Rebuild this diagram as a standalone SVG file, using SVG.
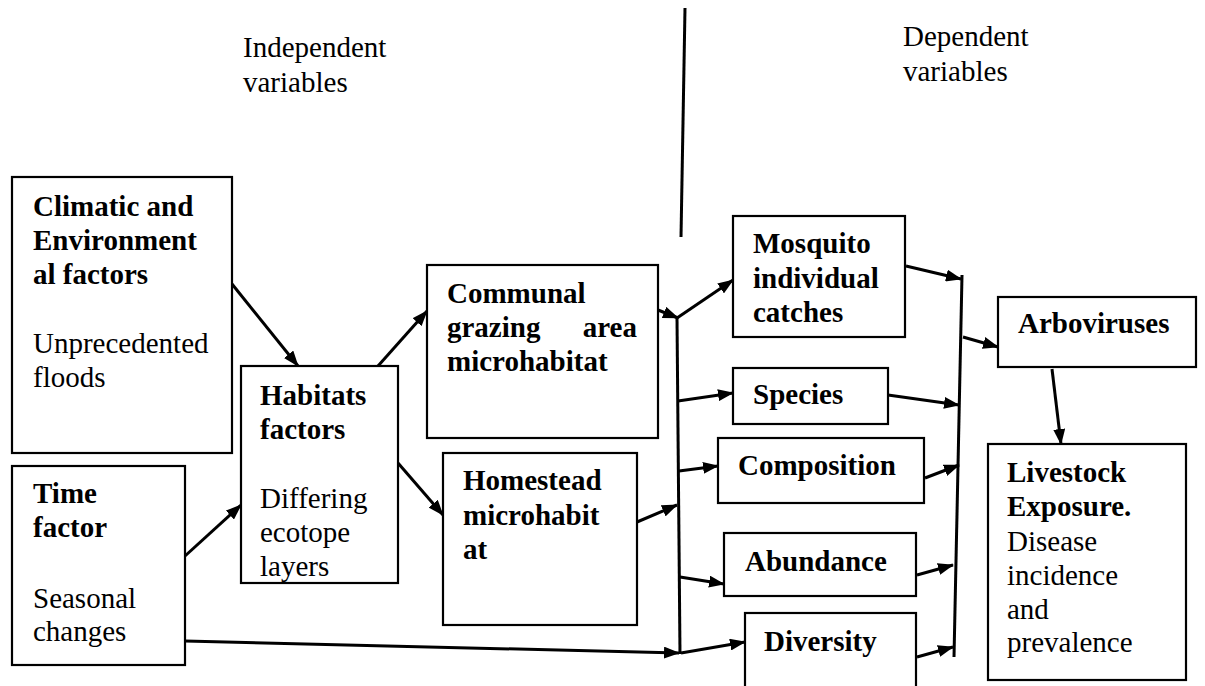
<svg xmlns="http://www.w3.org/2000/svg" width="1205" height="686" viewBox="0 0 1205 686">
<style>
.box{fill:#fff;stroke:#000;stroke-width:2.2}
.t{font-family:'Liberation Serif','Times New Roman',Tinos,'DejaVu Serif',serif;font-size:29px;fill:#000}
.b{font-weight:bold}
.ln{stroke:#000;stroke-width:3;fill:none}
.ar{stroke:#000;stroke-width:3;fill:none;marker-end:url(#ah)}
</style>
<defs>
<marker id="ah" markerUnits="userSpaceOnUse" markerWidth="16" markerHeight="12" refX="15" refY="6" orient="auto">
<path d="M0,0 L16,6 L0,12 z" fill="#000"/>
</marker>
</defs>
<rect width="1205" height="686" fill="#fff"/>

<g id="labels" class="t" font-family="Liberation Serif, serif">
<text x="243" y="57">Independent</text>
<text x="243" y="92">variables</text>
<text x="903" y="46">Dependent</text>
<text x="903" y="81">variables</text>
</g>

<g id="connectors">
<line class="ln" x1="685" y1="8" x2="681" y2="237"/>
<line class="ln" x1="677" y1="318" x2="680" y2="654"/>
<line class="ln" x1="962" y1="275" x2="954" y2="657"/>
<line class="ar" x1="232" y1="284" x2="298" y2="366"/>
<line class="ar" x1="378" y1="366" x2="427" y2="311"/>
<line class="ar" x1="185" y1="556" x2="241" y2="505"/>
<line class="ar" x1="398" y1="463" x2="443" y2="515"/>
<line class="ar" x1="637" y1="522" x2="677" y2="505"/>
<line class="ar" x1="185" y1="641" x2="679" y2="653"/>
<line class="ar" x1="658" y1="310" x2="678" y2="318"/>
<line class="ar" x1="677" y1="318" x2="733" y2="280"/>
<line class="ar" x1="678" y1="401" x2="733" y2="393"/>
<line class="ar" x1="679" y1="471" x2="718" y2="466"/>
<line class="ar" x1="680" y1="577" x2="724" y2="584"/>
<line class="ar" x1="681" y1="653" x2="745" y2="642"/>
<line class="ar" x1="906" y1="266" x2="961" y2="279"/>
<line class="ar" x1="888" y1="395" x2="959" y2="405"/>
<line class="ar" x1="925" y1="478" x2="959" y2="465"/>
<line class="ar" x1="917" y1="575" x2="953" y2="565"/>
<line class="ar" x1="917" y1="657" x2="953" y2="647"/>
<line class="ar" x1="963" y1="337" x2="998" y2="347"/>
<line class="ar" x1="1052" y1="369" x2="1061" y2="444"/>
</g>

<g id="climatic" class="t" font-family="Liberation Serif, serif">
<rect class="box" x="12" y="177" width="220" height="276"/>
<text class="b" x="33" y="216">Climatic and</text>
<text class="b" x="33" y="250">Environment</text>
<text class="b" x="33" y="284">al factors</text>
<text x="33" y="353">Unprecedented</text>
<text x="33" y="387">floods</text>
</g>

<g id="time" class="t" font-family="Liberation Serif, serif">
<rect class="box" x="12" y="466" width="173" height="199"/>
<text class="b" x="33" y="503">Time</text>
<text class="b" x="33" y="537">factor</text>
<text x="33" y="608">Seasonal</text>
<text x="33" y="641">changes</text>
</g>

<g id="habitats" class="t" font-family="Liberation Serif, serif">
<rect class="box" x="241" y="366" width="157" height="217"/>
<text class="b" x="260" y="405">Habitats</text>
<text class="b" x="260" y="439">factors</text>
<text x="260" y="508">Differing</text>
<text x="260" y="542">ecotope</text>
<text x="260" y="576">layers</text>
</g>

<g id="communal" class="t" font-family="Liberation Serif, serif">
<rect class="box" x="427" y="265" width="231" height="173"/>
<text class="b" x="447" y="303">Communal</text>
<text class="b" x="447" y="337">grazing</text>
<text class="b" x="637" y="337" text-anchor="end">area</text>
<text class="b" x="447" y="371">microhabitat</text>
</g>

<g id="homestead" class="t" font-family="Liberation Serif, serif">
<rect class="box" x="443" y="453" width="194" height="172"/>
<text class="b" x="463" y="490">Homestead</text>
<text class="b" x="463" y="525">microhabit</text>
<text class="b" x="463" y="559">at</text>
</g>

<g id="mosquito" class="t" font-family="Liberation Serif, serif">
<rect class="box" x="733" y="216" width="172" height="121"/>
<text class="b" x="753" y="253">Mosquito</text>
<text class="b" x="753" y="288">individual</text>
<text class="b" x="753" y="322">catches</text>
</g>

<g id="species" class="t" font-family="Liberation Serif, serif">
<rect class="box" x="733" y="368" width="155" height="56"/>
<text class="b" x="753" y="404">Species</text>
</g>

<g id="composition" class="t" font-family="Liberation Serif, serif">
<rect class="box" x="718" y="438" width="206" height="65"/>
<text class="b" x="738" y="475">Composition</text>
</g>

<g id="abundance" class="t" font-family="Liberation Serif, serif">
<rect class="box" x="724" y="533" width="192" height="63"/>
<text class="b" x="745" y="571">Abundance</text>
</g>

<g id="diversity" class="t" font-family="Liberation Serif, serif">
<rect class="box" x="745" y="613" width="171" height="80"/>
<text class="b" x="764" y="651">Diversity</text>
</g>

<g id="arboviruses" class="t" font-family="Liberation Serif, serif">
<rect class="box" x="998" y="297" width="198" height="70"/>
<text class="b" x="1018" y="333">Arboviruses</text>
</g>

<g id="livestock" class="t" font-family="Liberation Serif, serif">
<rect class="box" x="988" y="444" width="198" height="236"/>
<text class="b" x="1007" y="482">Livestock</text>
<text class="b" x="1007" y="516">Exposure.</text>
<text x="1007" y="551">Disease</text>
<text x="1007" y="585">incidence</text>
<text x="1007" y="619">and</text>
<text x="1007" y="652">prevalence</text>
</g>
</svg>
